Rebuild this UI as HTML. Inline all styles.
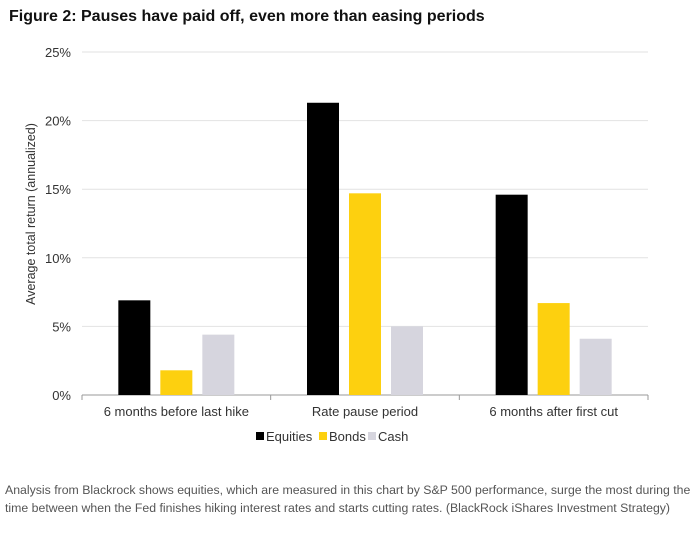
<!DOCTYPE html>
<html><head><meta charset="utf-8"><style>
body{margin:0;background:#fff;width:696px;height:541px;overflow:hidden;font-family:"Liberation Sans",sans-serif;}
#title{position:absolute;left:9px;top:8px;font-size:16px;font-weight:bold;color:#111;}
#caption{position:absolute;left:5px;top:481px;width:686px;font-size:12.3px;line-height:18px;color:#555;}
svg{position:absolute;left:0;top:0;}
</style></head><body>
<div id="title">Figure 2: Pauses have paid off, even more than easing periods</div>
<svg id="chart" width="696" height="470"></svg>
<div id="caption">Analysis from Blackrock shows equities, which are measured in this chart by S&amp;P 500 performance, surge the most during the time between when the Fed finishes hiking interest rates and starts cutting rates. (BlackRock iShares Investment Strategy)</div>
<script>
const categories=["6 months before last hike","Rate pause period","6 months after first cut"];
const seriesNames=["Equities","Bonds","Cash"];
const equities=[6.9,21.3,14.6];
const bonds=[1.8,14.7,6.7];
const cash=[4.4,5.0,4.1];
const yTicks=[0,5,10,15,20,25];
const yTickLabels=["0%","5%","10%","15%","20%","25%"];
const colors=["#000000","#fdd00f","#d6d5de"];
const NS="http://www.w3.org/2000/svg";
const svg=document.getElementById('chart');
const x0=82,x1=648,y0=395,y1=52;
const y=v=>y0-(v/25)*(y0-y1);
const gw=(x1-x0)/categories.length;
const bw=32,gap=10;
function mk(t,a){const e=document.createElementNS(NS,t);for(const k in a)e.setAttribute(k,a[k]);svg.appendChild(e);return e;}
yTicks.forEach((t,i)=>{
 const l=mk('line',{x1:x0,x2:x1,y1:y(t),y2:y(t),stroke:t===0?'#999':'#e2e2e2','stroke-width':1});
 
 
 const tx=mk('text',{x:71,y:y(t)+5,'text-anchor':'end','font-size':13,fill:'#333'});
 tx.textContent=yTickLabels[i];
 
 
});
[x0,x0+gw,x0+2*gw,x1].forEach(xx=>{
 const l=mk('line',{x1:xx,x2:xx,y1:y0,y2:y0+5,stroke:'#999'});
 
 
});
const series=[equities,bonds,cash];
categories.forEach((c,i)=>{
 const cx=x0+gw*(i+0.5);
 series.forEach((s,j)=>{
  const bx=cx+(j-1)*(bw+gap)-bw/2;
  const r=mk('rect',{x:bx,y:y(s[i]),width:bw,height:y0-y(s[i]),fill:colors[j]});
  
  
 });
 const t=mk('text',{x:cx,y:416,'text-anchor':'middle','font-size':13,fill:'#333'});
 t.textContent=c;
 
 
});
const yt=mk('text',{x:0,y:0,'text-anchor':'middle','font-size':12.5,fill:'#333',transform:'translate(35,214) rotate(-90)'});
yt.textContent='Average total return (annualized)';


const legX=[256,319,368];
seriesNames.forEach((n,j)=>{
 const r=mk('rect',{x:legX[j],y:432,width:8,height:8,fill:colors[j]});
 
 
 const t=mk('text',{x:legX[j]+10,y:441,'font-size':13,fill:'#333'});
 t.textContent=n;
 
 
});
</script>
</body></html>
